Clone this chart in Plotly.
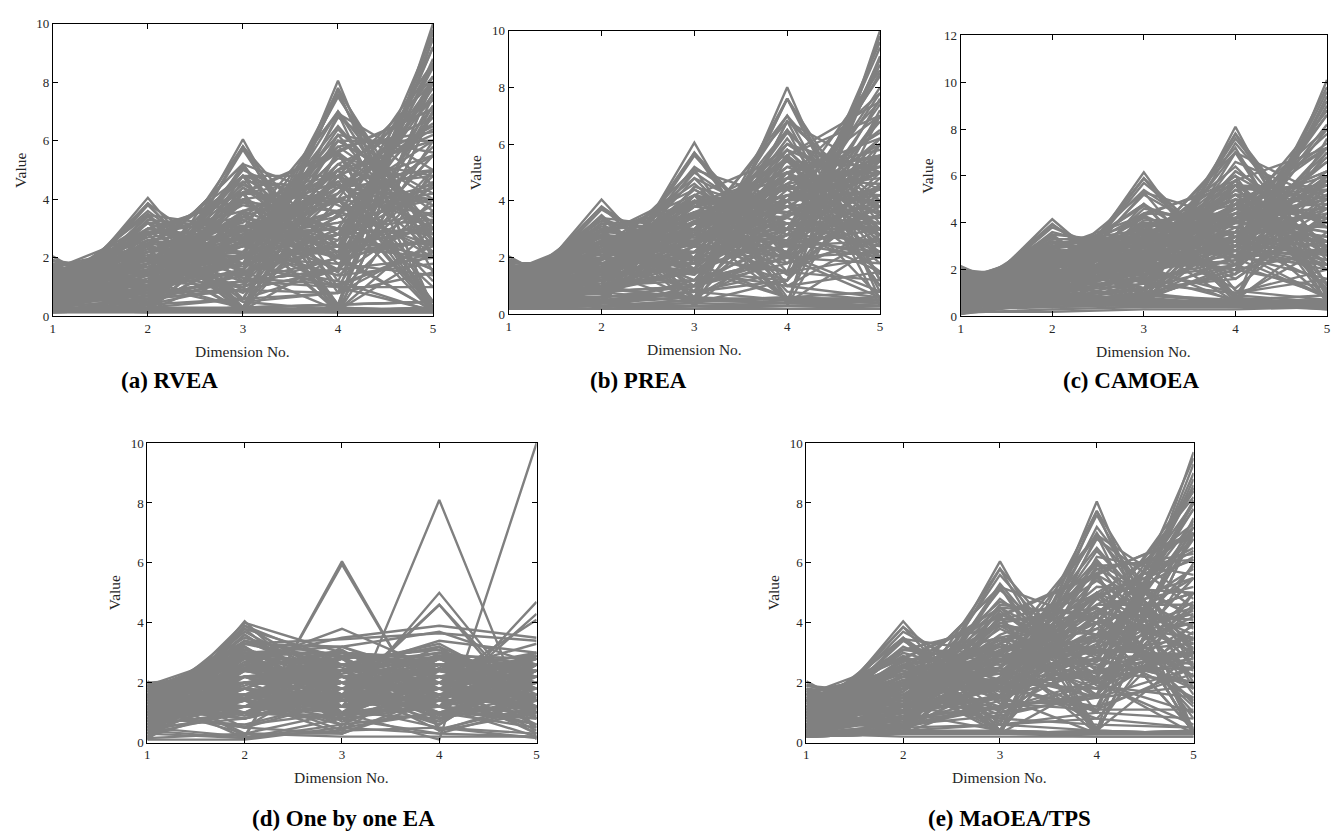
import plotly.graph_objects as go

W, H = 1331, 838

dimensions = [1, 2, 3, 4, 5]

# Objective vectors of the final populations (one row = one solution)
rvea = [
    [2.05, 0.2, 0.15, 0.15, 0.15], [0.2, 4.05, 0.2, 0.15, 0.15], [0.15, 0.25, 6.05, 0.15, 0.15],
    [0.15, 0.2, 0.2, 8.05, 0.2], [0.15, 0.15, 0.2, 0.2, 10.0], [1.4, 2.8, 0.15, 0.15, 0.15],
    [1.4, 0.2, 4.2, 0.15, 0.15], [1.4, 0.15, 0.15, 5.6, 0.15], [1.4, 0.15, 0.15, 0.15, 7.0],
    [0.15, 2.8, 4.2, 0.15, 0.15], [0.15, 2.8, 0.15, 5.6, 0.2], [0.15, 2.8, 0.2, 0.15, 7.0],
    [0.15, 0.15, 4.2, 5.6, 0.15], [0.2, 0.15, 4.2, 0.15, 7.0], [0.15, 0.15, 0.15, 5.6, 7.1],
    [0.9, 1.8, 2.7, 3.6, 4.5], [0.6, 1.2, 1.8, 2.4, 8.0], [0.4, 0.8, 1.2, 1.6, 9.2],
    [0.2, 0.4, 0.6, 0.8, 9.8], [0.4, 1.2, 1.8, 6.4, 3.0], [0.6, 1.2, 4.8, 2.4, 3.0],
    [0.6, 3.2, 1.8, 2.4, 3.0], [1.6, 1.2, 1.8, 2.4, 3.0], [0.3, 0.6, 0.9, 7.6, 1.5],
    [0.2, 0.4, 5.7, 0.8, 2.5], [0.2, 3.8, 0.6, 1.6, 2.0], [1.9, 0.8, 0.9, 0.8, 1.5],
    [1.0, 2.0, 0.15, 4.0, 5.0], [1.0, 0.15, 3.0, 4.0, 5.0], [1.0, 2.0, 3.0, 0.15, 5.0],
    [1.0, 2.0, 3.0, 4.0, 0.15], [0.15, 2.0, 3.0, 4.0, 5.0], [0.8, 0.8, 1.2, 4.8, 6.5],
    [0.6, 2.2, 1.2, 1.6, 7.2], [1.2, 0.8, 3.3, 1.6, 5.0], [0.5, 1.4, 3.6, 4.8, 3.0],
    [0.4, 1.0, 2.1, 2.8, 8.0], [1.1, 1.6, 2.4, 4.0, 3.5], [0.7, 1.8, 3.3, 2.0, 5.5],
    [0.3, 0.6, 1.2, 6.8, 4.5], [0.3, 1.2, 1.5, 2.4, 8.5], [0.2, 0.6, 0.9, 1.6, 9.5],
    [0.6, 0.8, 1.2, 1.6, 8.8], [0.9, 1.2, 1.5, 2.8, 7.2], [1.3, 2.4, 1.8, 2.4, 2.0],
    [0.8, 3.0, 2.1, 2.4, 2.5], [0.5, 1.8, 4.5, 2.8, 2.0], [0.6, 0.8, 2.1, 6.0, 4.2],
    [0.4, 0.8, 3.9, 3.6, 5.5], [1.0, 1.2, 1.8, 1.2, 7.5], [0.15, 1.2, 0.3, 0.4, 9.5],
    [1.2, 0.2, 0.3, 0.4, 8.0], [0.15, 0.2, 3.6, 0.4, 8.0], [0.15, 0.2, 0.3, 4.8, 8.0],
    [1.6, 0.2, 0.3, 4.8, 0.5], [0.15, 3.2, 0.3, 4.8, 0.5], [0.15, 0.2, 4.8, 4.8, 0.5],
    [1.2, 3.2, 0.3, 0.4, 0.5], [1.2, 0.2, 4.8, 0.4, 0.5], [0.15, 2.4, 4.8, 0.4, 0.5],
    [0.3, 0.8, 1.2, 2.0, 9.2], [0.7, 1.2, 2.7, 4.4, 5.5], [1.1, 1.8, 2.1, 3.6, 4.0],
    [0.8, 2.2, 2.7, 3.2, 4.0], [1.4, 1.4, 2.4, 2.8, 3.0], [1.7, 1.0, 1.5, 2.4, 2.0],
    [0.4, 3.4, 1.5, 2.8, 2.0], [0.5, 1.0, 5.1, 2.4, 2.5], [0.4, 1.0, 1.8, 7.0, 2.0],
    [0.2, 0.15, 0.15, 0.15, 0.15], [0.9, 1.5, 3.0, 5.0, 2.2], [0.5, 2.5, 2.0, 5.5, 2.6],
    [1.2, 1.0, 4.0, 3.0, 3.3], [0.3, 1.6, 2.5, 6.5, 2.8], [1.5, 0.9, 2.0, 5.0, 0.15],
    [0.7, 2.6, 3.0, 4.5, 0.2], [0.4, 1.0, 5.0, 3.5, 0.15], [1.1, 2.9, 1.5, 3.0, 3.5],
    [0.2, 0.5, 1.5, 7.5, 2.5], [0.6, 1.5, 3.5, 1.5, 7.0], [1.3, 1.9, 2.5, 1.0, 6.0],
    [0.25, 0.3, 2.2, 5.8, 6.3], [0.5, 0.7, 2.8, 3.0, 7.8], [0.8, 0.3, 0.6, 6.2, 5.6],
    [0.35, 2.0, 0.8, 3.5, 8.0], [1.5, 2.4, 0.9, 1.6, 4.5], [1.8, 0.4, 2.0, 1.8, 3.2],
    [0.9, 3.5, 0.5, 0.2, 3.0], [0.3, 3.3, 3.0, 0.2, 2.2], [1.4, 0.5, 4.4, 2.0, 0.2],
    [0.6, 2.0, 5.2, 1.0, 0.2], [0.15, 0.2, 0.15, 7.8, 2.0], [0.2, 0.15, 5.8, 1.2, 0.15],
    [1.6, 2.0, 0.5, 0.8, 4.0], [0.5, 1.5, 2.0, 2.2, 8.6], [0.3, 0.9, 1.6, 4.2, 8.2],
    [1.0, 2.5, 2.8, 2.0, 5.5], [0.2, 1.8, 4.0, 4.5, 3.0],
    [1.93, 1.04, 0.3, 0.2, 0.2], [1.73, 2.0, 0.2, 0.3, 0.2], [1.41, 2.83, 0.3, 0.2, 0.3],
    [1.0, 3.46, 0.2, 0.2, 0.2], [0.52, 3.86, 0.3, 0.2, 0.2], [0.2, 3.86, 1.55, 0.2, 0.3],
    [0.3, 3.46, 3.0, 0.2, 0.2], [0.2, 2.83, 4.24, 0.3, 0.2], [0.2, 2.0, 5.2, 0.2, 0.3],
    [0.3, 1.04, 5.8, 0.2, 0.2], [0.2, 0.3, 5.8, 2.07, 0.2], [0.3, 0.2, 5.2, 4.0, 0.3],
    [0.2, 0.3, 4.24, 5.66, 0.2], [0.2, 0.2, 3.0, 6.93, 0.2], [0.3, 0.2, 1.55, 7.73, 0.3],
    [0.2, 0.3, 0.2, 7.73, 2.6], [0.3, 0.2, 0.3, 6.93, 5.0], [0.2, 0.2, 0.2, 5.66, 7.07],
    [0.2, 0.3, 0.3, 4.0, 8.66], [0.3, 0.2, 0.2, 2.07, 9.66],
    [1.5, 2.6, 2.2, 1.4, 1.8], [0.7, 1.1, 2.6, 5.4, 4.8], [1.2, 2.2, 3.8, 3.0, 1.6],
    [0.5, 0.9, 1.8, 3.4, 8.6], [0.9, 2.8, 3.4, 2.6, 4.4], [1.8, 1.4, 1.0, 2.0, 2.6],
    [0.4, 1.6, 4.2, 4.8, 3.4], [1.0, 1.0, 2.4, 6.2, 2.4], [0.6, 2.4, 1.6, 4.4, 6.4],
    [1.3, 0.6, 3.6, 2.4, 5.8], [0.8, 1.7, 2.9, 3.9, 6.0], [1.6, 2.9, 1.3, 1.1, 2.2],
    [0.3, 2.2, 3.2, 5.8, 3.6], [1.1, 0.4, 1.1, 4.2, 7.4], [0.5, 3.0, 4.0, 2.0, 3.8],
    [1.4, 1.8, 3.4, 4.6, 1.2], [0.2, 1.4, 2.0, 5.0, 7.4], [0.9, 2.0, 1.0, 2.6, 8.0],
    [1.7, 2.2, 2.4, 1.4, 3.6], [0.6, 0.5, 4.6, 4.4, 4.0], [1.2, 3.0, 2.6, 3.0, 2.8],
    [0.4, 0.7, 2.6, 7.0, 3.0], [1.0, 1.6, 4.4, 2.8, 4.6], [0.7, 2.5, 0.6, 5.0, 6.0],
    [1.5, 1.2, 2.8, 3.4, 4.4], [0.3, 1.0, 3.4, 2.2, 8.2], [1.9, 1.5, 1.8, 1.0, 1.0],
    [0.8, 3.6, 1.2, 1.0, 2.4], [1.1, 2.4, 4.6, 1.8, 1.4], [0.5, 1.2, 1.0, 6.0, 6.0],
    [1.2, 1.9, 2.2, 5.2, 3.8], [0.6, 2.9, 2.5, 3.6, 4.2], [1.5, 1.5, 3.9, 2.2, 2.6],
    [0.9, 2.3, 2.0, 4.6, 5.0], [0.4, 1.3, 3.0, 4.2, 6.6], [1.3, 2.7, 3.1, 2.4, 3.2],
    [0.7, 0.9, 3.4, 5.6, 3.2], [1.0, 2.1, 1.7, 3.4, 6.8], [1.6, 1.7, 2.0, 3.6, 2.4],
    [0.5, 2.0, 2.4, 6.0, 4.0], [1.1, 1.2, 4.2, 4.0, 2.0], [0.8, 3.2, 2.9, 1.6, 4.8],
    [1.4, 0.7, 2.6, 4.4, 4.8], [0.3, 2.6, 1.8, 4.8, 6.2], [1.2, 1.4, 3.0, 2.0, 7.0],
    [0.6, 1.8, 4.8, 3.8, 2.2], [1.7, 2.4, 1.4, 3.0, 1.6], [0.9, 0.6, 1.4, 5.2, 6.8],
    [1.0, 2.8, 3.6, 4.0, 1.0], [0.4, 1.5, 2.8, 3.0, 7.6],
]

prea = [
    [2.05, 0.3, 0.4, 0.3, 0.2], [0.2, 4.05, 0.5, 0.4, 0.3], [0.3, 0.5, 6.05, 0.4, 0.3],
    [0.2, 0.3, 0.5, 8.0, 0.5], [0.2, 0.3, 0.2, 0.3, 10.0], [1.9, 1.0, 0.5, 0.4, 0.3],
    [0.3, 3.7, 1.8, 0.6, 0.4], [0.4, 0.8, 5.6, 2.0, 0.6], [0.3, 0.6, 1.0, 7.6, 2.0],
    [0.3, 0.5, 0.8, 1.5, 9.1], [0.2, 0.4, 0.8, 1.2, 9.0], [0.5, 0.8, 1.0, 2.0, 8.8],
    [1.6, 2.0, 1.5, 1.0, 1.5], [1.2, 2.8, 2.0, 1.5, 2.0], [0.8, 2.2, 4.0, 2.5, 2.0],
    [0.6, 1.5, 3.0, 5.5, 3.5], [0.5, 1.0, 2.0, 4.0, 7.5], [1.0, 1.8, 2.5, 3.5, 5.0],
    [0.9, 1.6, 3.2, 4.2, 4.0], [0.7, 2.0, 2.8, 3.0, 5.5], [1.1, 1.2, 2.4, 4.5, 4.2],
    [1.3, 2.2, 3.0, 2.2, 3.5], [0.4, 1.2, 3.8, 4.8, 3.8], [0.6, 2.6, 1.5, 4.0, 5.2],
    [0.8, 0.6, 2.2, 5.2, 5.5], [1.4, 0.8, 3.5, 3.0, 3.0], [0.3, 2.4, 3.4, 2.6, 6.2],
    [1.0, 2.5, 1.2, 2.0, 7.0], [0.5, 0.9, 4.5, 3.5, 4.5], [1.2, 1.4, 1.6, 5.8, 2.5],
    [0.7, 3.0, 2.5, 3.8, 2.8], [1.5, 1.5, 3.0, 4.0, 1.5], [0.4, 1.8, 2.0, 6.5, 3.0],
    [0.6, 1.0, 1.5, 3.0, 8.0], [0.9, 2.0, 4.2, 2.0, 3.8], [1.1, 0.5, 2.8, 4.8, 4.6],
    [0.2, 1.4, 2.6, 5.0, 6.2], [1.7, 1.2, 1.2, 2.5, 3.0], [0.8, 3.2, 1.0, 2.8, 4.0],
    [0.5, 2.3, 3.8, 4.4, 2.2], [1.3, 2.6, 2.2, 1.2, 4.5], [0.3, 0.5, 3.0, 6.0, 5.0],
    [0.9, 1.2, 4.8, 1.5, 4.0], [0.6, 2.8, 2.6, 5.0, 1.4], [1.0, 0.9, 1.8, 6.0, 4.0],
    [0.4, 1.6, 1.0, 2.2, 9.0], [1.2, 1.9, 3.6, 3.2, 2.4], [0.7, 2.4, 4.6, 1.8, 2.6],
    [1.5, 2.0, 0.8, 3.5, 3.8], [0.3, 1.0, 2.0, 7.0, 3.2], [0.5, 1.3, 5.0, 2.8, 3.5],
    [1.8, 0.7, 2.4, 2.0, 2.2], [0.8, 1.5, 2.5, 2.0, 7.6], [1.4, 2.5, 1.5, 2.8, 4.0],
    [0.2, 3.0, 2.5, 3.5, 5.0], [1.0, 3.2, 3.0, 2.0, 1.8], [0.6, 0.4, 3.6, 4.0, 6.0],
    [1.3, 1.0, 1.2, 4.8, 5.0], [0.5, 2.0, 1.8, 6.2, 2.0], [0.9, 2.6, 3.5, 3.6, 3.0],
    [0.3, 0.8, 1.5, 3.5, 8.4], [1.6, 1.8, 2.5, 1.5, 3.0], [0.7, 1.2, 5.2, 3.0, 1.5],
    [1.1, 2.0, 2.0, 5.0, 3.5], [0.4, 2.8, 1.5, 1.2, 7.2], [0.6, 1.6, 3.0, 4.6, 5.2],
    [1.2, 0.3, 0.5, 4.0, 6.5], [0.2, 0.5, 0.8, 5.6, 7.5], [0.8, 0.4, 4.0, 0.5, 7.0],
    [1.0, 3.0, 0.3, 0.3, 6.0], [1.5, 0.4, 0.3, 5.5, 1.0], [0.3, 2.8, 4.0, 0.4, 2.5],
    [1.4, 2.5, 3.5, 0.5, 0.3], [0.6, 1.5, 2.5, 6.5, 0.3], [0.2, 0.3, 0.3, 0.4, 9.8],
    [0.8, 2.0, 3.0, 4.0, 5.0], [0.4, 1.2, 2.2, 3.0, 7.8], [1.0, 1.4, 3.6, 5.0, 2.6],
    [1.7, 0.2, 1.0, 1.8, 4.6], [0.5, 3.5, 0.6, 2.5, 4.2], [0.9, 0.2, 0.3, 3.0, 8.5],
    [0.2, 0.9, 2.8, 7.0, 1.2], [1.3, 1.6, 4.2, 1.0, 2.8], [0.6, 0.8, 0.4, 6.8, 4.0],
    [0.4, 2.2, 3.2, 5.5, 3.0], [1.1, 1.8, 2.8, 2.5, 6.0], [0.3, 0.4, 1.2, 2.0, 9.4],
    [1.6, 1.5, 0.4, 1.2, 5.5], [0.7, 3.4, 2.0, 1.5, 1.2], [0.2, 0.2, 0.2, 0.3, 0.3],
    [0.4, 0.3, 0.2, 0.2, 0.2],
    [1.95, 0.9, 0.6, 0.5, 0.4], [1.7, 2.0, 0.5, 0.6, 0.5], [1.4, 2.8, 0.6, 0.4, 0.5],
    [1.0, 3.4, 0.5, 0.6, 0.4], [0.5, 3.8, 0.8, 0.5, 0.6], [0.4, 3.8, 1.6, 0.6, 0.5],
    [0.5, 3.4, 3.0, 0.5, 0.6], [0.4, 2.8, 4.2, 0.8, 0.5], [0.5, 2.0, 5.1, 0.6, 0.8],
    [0.4, 1.0, 5.7, 1.0, 0.6], [0.5, 0.6, 5.7, 2.1, 0.8], [0.4, 0.8, 5.1, 4.0, 0.6],
    [0.6, 0.5, 4.2, 5.6, 1.0], [0.4, 0.6, 3.0, 6.8, 0.8], [0.5, 0.8, 1.6, 7.6, 1.2],
    [0.4, 0.5, 0.8, 7.6, 2.6], [0.6, 0.4, 0.6, 6.8, 5.0], [0.5, 0.8, 1.0, 5.6, 7.0],
    [0.4, 0.6, 0.8, 4.0, 8.6], [0.5, 0.5, 0.6, 2.1, 9.6],
    [1.2, 2.4, 3.0, 4.2, 3.2], [0.8, 1.8, 2.2, 5.0, 5.6], [1.5, 2.8, 2.0, 2.4, 2.6],
    [0.6, 1.2, 4.0, 4.4, 4.8], [1.0, 2.2, 3.4, 3.0, 4.4], [0.4, 2.6, 2.8, 4.8, 4.6],
    [1.4, 1.6, 2.6, 3.8, 4.2], [0.9, 3.0, 3.8, 3.4, 2.2], [1.7, 1.6, 1.8, 3.2, 3.4],
    [0.5, 1.0, 3.2, 5.8, 4.4], [1.1, 2.6, 1.6, 4.2, 5.4], [0.7, 1.4, 2.8, 2.6, 7.0],
    [1.3, 2.0, 4.0, 3.8, 2.0], [0.3, 2.0, 3.6, 4.0, 5.6], [1.6, 2.4, 2.8, 2.0, 4.8],
    [0.8, 0.9, 2.0, 6.4, 3.6], [1.0, 3.3, 2.4, 1.8, 5.0], [0.6, 2.2, 4.8, 3.2, 3.0],
    [1.4, 1.2, 3.0, 5.2, 3.8], [0.4, 1.8, 1.4, 4.6, 7.0], [1.2, 3.0, 3.2, 4.6, 1.8],
    [0.9, 1.6, 4.4, 2.4, 5.6], [1.5, 0.9, 1.6, 4.4, 5.2], [0.5, 2.8, 2.0, 3.0, 6.8],
    [1.1, 1.4, 3.8, 5.4, 2.4], [0.7, 2.4, 2.4, 5.8, 2.8], [1.8, 1.8, 2.2, 2.8, 2.0],
    [0.3, 1.2, 2.4, 4.8, 7.8], [1.3, 2.6, 3.6, 1.4, 4.0], [0.6, 3.2, 3.4, 4.2, 3.6],
    [1.0, 1.7, 2.6, 4.6, 2.8], [0.5, 2.4, 3.2, 2.4, 5.4], [1.3, 1.3, 2.2, 3.4, 6.2],
    [0.8, 2.9, 2.7, 4.0, 4.4], [1.6, 2.1, 3.4, 2.6, 2.2], [0.4, 1.5, 4.2, 3.6, 5.0],
    [1.1, 2.3, 1.9, 5.6, 3.0], [0.7, 1.1, 3.5, 4.4, 6.4], [1.4, 2.7, 2.6, 3.2, 3.2],
    [0.9, 1.9, 3.9, 5.0, 2.0], [1.2, 0.9, 2.2, 2.8, 7.4], [0.6, 2.6, 1.2, 5.0, 5.8],
    [1.7, 1.4, 2.9, 2.2, 3.8], [0.3, 1.7, 3.0, 5.4, 5.2], [1.0, 3.1, 2.0, 3.8, 3.4],
    [0.8, 0.7, 4.2, 3.0, 5.6], [1.5, 2.2, 1.4, 4.2, 3.0], [0.5, 2.0, 2.8, 6.0, 3.8],
    [1.2, 1.6, 3.3, 3.8, 5.6], [0.7, 2.8, 4.4, 2.8, 2.6],
]

camoea = [
    [2.15, 0.4, 0.5, 0.6, 0.4], [0.3, 4.15, 0.8, 0.5, 0.6], [0.4, 0.6, 6.15, 0.8, 0.5],
    [0.3, 0.5, 0.6, 8.1, 0.8], [0.3, 0.4, 0.5, 0.6, 10.1], [2.0, 1.5, 0.6, 0.5, 0.5],
    [0.5, 3.8, 2.2, 0.6, 0.6], [0.4, 0.9, 5.7, 2.5, 0.8], [0.4, 0.8, 1.2, 7.4, 2.8],
    [0.4, 0.6, 1.0, 1.8, 9.4], [0.6, 0.8, 1.2, 2.2, 9.0], [1.4, 2.6, 3.2, 2.5, 2.2],
    [1.0, 2.0, 4.2, 3.2, 3.0], [0.7, 1.4, 3.0, 6.0, 3.8], [0.5, 1.2, 2.2, 4.2, 7.8],
    [0.9, 2.2, 2.8, 3.6, 5.2], [1.2, 1.6, 3.6, 4.4, 3.6], [0.8, 2.6, 2.4, 3.0, 6.0],
    [1.5, 1.8, 2.0, 4.8, 3.0], [0.6, 3.0, 3.5, 2.6, 4.0], [1.1, 1.0, 4.6, 3.8, 3.2],
    [0.4, 1.8, 2.6, 5.4, 5.6], [1.3, 2.4, 1.6, 2.2, 5.8], [0.7, 0.9, 3.2, 6.4, 2.6],
    [1.6, 1.4, 2.8, 3.0, 2.4], [0.9, 3.2, 2.0, 3.8, 3.4], [0.5, 2.0, 4.8, 2.2, 4.6],
    [1.0, 1.2, 1.6, 5.6, 5.0], [0.3, 1.4, 3.6, 4.6, 6.2], [1.8, 1.0, 1.6, 2.4, 3.2],
    [1.2, 2.8, 3.0, 1.8, 4.2], [0.6, 1.6, 1.8, 3.2, 8.2], [0.8, 2.4, 3.8, 4.8, 2.0],
    [1.4, 0.8, 2.4, 4.0, 5.4], [0.4, 2.2, 2.0, 7.0, 2.4], [1.0, 3.4, 1.4, 2.8, 4.8],
    [0.7, 1.2, 5.2, 3.0, 2.8], [1.5, 2.2, 3.4, 2.6, 1.6], [0.3, 0.9, 2.4, 3.6, 8.8],
    [1.1, 1.8, 2.6, 5.8, 2.2], [0.9, 0.7, 3.8, 5.0, 4.2], [0.5, 2.8, 3.0, 3.2, 6.2],
    [1.3, 1.2, 2.0, 3.4, 6.6], [0.6, 3.6, 2.6, 2.0, 2.8], [1.7, 2.0, 1.2, 1.6, 4.4],
    [0.8, 1.5, 4.4, 4.2, 3.6], [0.4, 1.0, 1.4, 6.6, 5.0], [1.2, 2.6, 2.2, 4.4, 4.6],
    [0.7, 2.0, 3.4, 5.2, 4.2], [1.0, 0.6, 1.2, 3.0, 8.0], [0.5, 0.8, 0.6, 4.8, 7.2],
    [1.6, 0.6, 0.8, 5.0, 1.2], [0.3, 3.0, 4.0, 0.8, 3.0], [1.4, 3.0, 0.9, 0.7, 3.6],
    [0.6, 0.5, 4.8, 0.9, 6.0], [1.2, 1.2, 0.5, 0.6, 7.6], [0.4, 0.5, 0.5, 3.6, 8.6],
    [0.9, 2.2, 4.8, 0.6, 0.5], [1.5, 2.8, 2.2, 2.8, 0.8], [0.5, 1.2, 3.0, 7.2, 0.6],
    [0.8, 1.0, 2.0, 2.4, 9.2], [1.1, 2.2, 1.8, 3.0, 6.8], [0.6, 1.8, 3.2, 4.0, 6.6],
    [1.3, 0.4, 3.0, 5.8, 1.4], [0.4, 2.6, 1.2, 5.6, 5.4], [1.9, 0.6, 2.0, 1.0, 2.0],
    [0.3, 1.6, 5.4, 2.8, 2.2], [1.0, 3.0, 3.6, 3.2, 1.4], [0.7, 2.4, 1.0, 6.2, 3.8],
    [1.2, 1.6, 2.6, 2.0, 7.0], [0.5, 0.4, 2.2, 4.6, 7.4], [0.9, 2.8, 2.6, 4.6, 3.0],
    [1.4, 1.6, 4.0, 3.2, 2.6], [0.6, 3.4, 0.8, 3.4, 5.8], [0.4, 0.6, 0.8, 2.0, 9.6],
    [1.1, 1.4, 3.4, 6.0, 0.6], [0.2, 0.6, 1.6, 7.6, 2.8], [1.5, 1.0, 0.6, 4.2, 5.0],
    [0.8, 3.2, 3.0, 1.2, 4.4], [1.0, 2.0, 3.0, 4.0, 5.0], [0.6, 1.0, 2.8, 3.2, 8.6],
    [0.5, 2.2, 4.4, 5.6, 1.0], [1.7, 1.8, 0.8, 2.6, 4.8], [0.4, 0.5, 0.5, 0.5, 0.5],
    [0.5, 0.6, 0.4, 0.4, 0.4],
    [2.05, 1.0, 0.7, 0.6, 0.5], [1.8, 2.1, 0.6, 0.7, 0.6], [1.5, 2.9, 0.7, 0.5, 0.6],
    [1.05, 3.5, 0.6, 0.7, 0.5], [0.55, 3.95, 0.9, 0.6, 0.7], [0.5, 3.9, 1.7, 0.7, 0.6],
    [0.6, 3.5, 3.1, 0.6, 0.7], [0.5, 2.9, 4.3, 0.9, 0.6], [0.6, 2.1, 5.3, 0.7, 0.9],
    [0.5, 1.1, 5.9, 1.1, 0.7], [0.6, 0.7, 5.9, 2.2, 0.9], [0.5, 0.9, 5.3, 4.1, 0.7],
    [0.7, 0.6, 4.3, 5.8, 1.1], [0.5, 0.7, 3.1, 7.0, 0.9], [0.6, 0.9, 1.7, 7.8, 1.3],
    [0.5, 0.6, 0.9, 7.8, 2.7], [0.7, 0.5, 0.7, 7.0, 5.1], [0.6, 0.9, 1.1, 5.8, 7.2],
    [0.5, 0.7, 0.9, 4.1, 8.8], [0.6, 0.6, 0.7, 2.2, 9.8],
    [1.3, 2.3, 3.1, 4.0, 3.4], [0.9, 1.9, 2.3, 5.2, 5.4], [1.6, 2.7, 2.1, 2.6, 2.8],
    [0.7, 1.3, 4.1, 4.2, 5.0], [1.1, 2.1, 3.3, 3.2, 4.6], [0.5, 2.5, 2.9, 4.6, 4.8],
    [1.5, 1.7, 2.5, 3.6, 4.4], [1.0, 3.1, 3.7, 3.6, 2.4], [1.8, 1.5, 1.9, 3.4, 3.2],
    [0.6, 1.1, 3.1, 5.6, 4.6], [1.2, 2.5, 1.7, 4.0, 5.6], [0.8, 1.5, 2.7, 2.8, 7.2],
    [1.4, 2.1, 3.9, 3.6, 2.2], [0.4, 2.1, 3.5, 4.2, 5.8], [1.7, 2.3, 2.7, 2.2, 5.0],
    [0.9, 1.0, 2.1, 6.2, 3.8], [1.1, 3.2, 2.5, 2.0, 5.2], [0.7, 2.3, 4.7, 3.4, 3.2],
    [1.5, 1.3, 3.1, 5.0, 4.0], [0.5, 1.9, 1.5, 4.4, 7.2], [1.3, 2.9, 3.3, 4.4, 2.0],
    [1.0, 1.7, 4.3, 2.6, 5.8], [1.6, 1.0, 1.7, 4.2, 5.4], [0.6, 2.7, 2.1, 3.2, 7.0],
    [1.2, 1.5, 3.7, 5.2, 2.6], [0.8, 2.5, 2.5, 5.6, 3.0], [1.9, 1.9, 2.3, 3.0, 2.2],
    [0.4, 1.3, 2.5, 4.6, 8.0], [1.4, 2.7, 3.5, 1.6, 4.2], [0.7, 3.3, 3.3, 4.0, 3.8],
    [0.15, 0.3, 0.4, 0.5, 0.3], [0.2, 0.2, 0.3, 0.3, 0.4], [0.1, 1.0, 0.5, 0.4, 0.6],
    [0.2, 1.8, 1.0, 0.6, 0.3], [0.1, 0.6, 1.4, 1.0, 1.6], [0.2, 1.3, 0.8, 2.0, 1.2],
    [1.1, 1.9, 2.8, 4.8, 3.2], [0.6, 2.4, 3.4, 3.0, 5.4], [1.4, 1.4, 2.3, 3.2, 6.0],
    [0.9, 3.0, 2.8, 4.2, 4.2], [1.7, 2.0, 3.6, 2.8, 2.0], [0.5, 1.6, 4.0, 3.8, 5.2],
    [1.2, 2.4, 2.0, 5.4, 3.2], [0.8, 1.2, 3.3, 4.6, 6.2], [1.5, 2.6, 2.7, 3.4, 3.0],
    [1.0, 2.0, 3.8, 5.2, 2.2], [1.3, 1.0, 2.4, 3.0, 7.2], [0.7, 2.7, 1.4, 4.8, 6.0],
]

one_by_one = [
    [0.3, 0.15, 6.05, 0.4, 1.0], [0.5, 0.2, 5.95, 0.45, 1.2], [1.0, 0.5, 0.3, 8.1, 0.1],
    [0.8, 0.6, 1.0, 0.1, 10.0], [0.6, 1.5, 1.2, 5.0, 1.0], [0.9, 1.0, 1.6, 4.6, 0.8],
    [1.2, 0.8, 1.5, 4.6, 1.1], [0.7, 1.2, 1.0, 1.2, 4.7], [1.0, 1.6, 1.4, 1.4, 4.3],
    [0.4, 1.0, 1.5, 2.0, 4.1], [1.5, 3.3, 3.45, 3.65, 3.4], [0.3, 2.6, 3.8, 2.4, 3.3],
    [0.5, 2.8, 3.5, 3.9, 3.5], [0.8, 3.0, 3.2, 3.7, 2.6], [1.1, 2.5, 2.4, 3.4, 3.0],
    [2.05, 0.2, 0.4, 0.5, 0.3], [0.2, 4.05, 1.0, 1.2, 0.8], [0.15, 3.9, 2.0, 0.8, 1.5],
    [0.3, 3.6, 1.5, 2.0, 1.0], [0.5, 3.4, 2.5, 1.5, 2.0], [0.1, 3.2, 0.5, 1.0, 0.5],
    [0.7, 3.0, 1.0, 2.5, 1.5], [0.1, 2.5, 2.0, 0.6, 2.6], [1.6, 0.15, 0.6, 1.0, 0.8],
    [1.9, 0.3, 1.0, 0.8, 1.4], [2.0, 0.5, 1.4, 1.8, 1.0], [0.4, 0.15, 0.8, 1.2, 0.6],
    [0.1, 0.1, 0.5, 0.3, 0.2], [0.15, 0.3, 0.2, 0.2, 0.2], [1.8, 1.2, 2.0, 1.5, 2.2],
    [1.5, 2.0, 1.0, 2.2, 1.6], [1.2, 1.5, 2.8, 1.2, 1.0], [1.0, 2.8, 1.6, 2.0, 2.8],
    [0.8, 2.2, 2.6, 1.6, 1.2], [0.6, 1.8, 1.2, 2.8, 2.0], [1.4, 1.0, 2.2, 2.6, 2.4],
    [1.7, 2.4, 1.8, 1.0, 1.8], [0.9, 3.1, 2.4, 1.4, 0.9], [1.3, 1.6, 1.4, 2.2, 2.9],
    [0.5, 2.5, 3.0, 2.0, 1.4], [1.6, 1.4, 0.8, 1.8, 2.6], [1.1, 2.0, 2.0, 2.9, 1.2],
    [0.7, 1.2, 2.4, 2.4, 2.2], [1.9, 1.8, 1.2, 1.6, 1.1], [0.4, 2.9, 1.8, 1.2, 2.4],
    [1.2, 2.6, 2.8, 1.8, 1.6], [1.5, 0.8, 1.8, 2.0, 2.8], [0.8, 1.4, 1.0, 3.0, 1.8],
    [1.0, 2.2, 2.2, 0.8, 2.2], [1.8, 2.0, 2.6, 2.2, 0.8], [0.6, 3.2, 1.4, 1.8, 2.6],
    [1.4, 1.8, 3.0, 2.6, 1.4], [0.9, 1.0, 1.6, 1.4, 2.9], [1.6, 2.8, 1.2, 2.4, 2.0],
    [0.3, 1.6, 2.0, 1.6, 1.6], [1.1, 3.0, 2.2, 1.0, 1.2], [1.7, 1.6, 2.4, 2.8, 2.4],
    [0.5, 2.0, 0.9, 2.2, 2.8], [1.3, 2.4, 1.8, 3.2, 1.0], [2.0, 1.0, 0.9, 1.2, 1.8],
    [0.7, 2.7, 2.6, 2.6, 2.6], [1.0, 1.2, 3.2, 2.0, 2.0], [1.5, 3.0, 2.0, 1.6, 2.4],
    [0.8, 0.6, 1.4, 2.6, 1.2], [1.2, 1.8, 0.6, 1.0, 2.0], [1.9, 2.6, 1.6, 2.0, 2.9],
    [0.4, 1.4, 2.6, 3.0, 2.2], [1.4, 2.2, 1.2, 1.4, 0.6], [0.6, 2.4, 3.1, 1.2, 2.0],
    [1.6, 1.0, 2.6, 3.3, 1.6], [1.0, 3.4, 2.0, 2.4, 1.8], [0.9, 1.8, 1.6, 0.6, 2.6],
    [1.8, 2.8, 2.8, 1.8, 1.2], [0.2, 2.2, 1.4, 2.6, 1.0], [1.3, 0.9, 2.0, 1.8, 3.0],
    [0.7, 2.0, 2.2, 2.0, 0.4], [1.5, 1.6, 0.4, 2.4, 2.2], [1.1, 2.6, 1.0, 1.4, 2.8],
    [0.5, 0.8, 1.8, 2.8, 2.6], [1.7, 2.2, 2.0, 0.4, 1.4], [0.8, 3.0, 3.0, 2.8, 2.2],
    [1.2, 1.2, 1.2, 2.0, 0.3], [1.4, 2.4, 2.6, 1.2, 2.6], [0.6, 1.4, 0.3, 1.6, 1.8],
    [1.0, 0.5, 2.4, 0.9, 2.4], [1.8, 1.5, 1.6, 2.6, 0.5], [0.3, 1.0, 0.8, 0.3, 1.2],
    [1.6, 2.2, 2.3, 2.9, 2.8], [0.9, 2.9, 0.8, 1.8, 0.3], [1.2, 0.3, 0.3, 1.4, 1.5],
    [1.9, 1.4, 2.8, 0.8, 2.0], [0.5, 3.3, 2.6, 3.2, 1.8], [1.1, 1.4, 1.2, 0.5, 0.15],
    [0.6, 2.0, 1.8, 1.2, 0.2],
    [1.8, 3.0, 2.2, 1.4, 1.6], [1.5, 3.5, 2.6, 2.0, 1.2], [1.2, 3.8, 2.8, 1.6, 2.2],
    [0.8, 4.0, 3.0, 2.4, 1.8], [1.9, 2.6, 1.4, 2.2, 2.4], [1.6, 3.2, 1.2, 2.8, 1.4],
    [1.0, 3.7, 2.0, 1.2, 2.6], [0.6, 3.9, 2.6, 2.0, 1.0], [1.4, 3.4, 2.9, 2.6, 2.0],
    [2.0, 2.2, 2.0, 1.6, 2.8], [0.9, 3.6, 1.6, 2.9, 2.2], [1.7, 2.9, 3.0, 1.8, 1.6],
    [1.3, 3.1, 2.4, 3.0, 2.6], [0.4, 3.8, 1.2, 2.4, 1.4], [1.1, 3.3, 3.2, 2.2, 1.0],
    [1.8, 1.6, 2.8, 3.1, 1.4], [0.7, 2.4, 1.8, 2.4, 3.0], [1.5, 2.0, 2.4, 1.2, 2.4],
    [1.2, 1.2, 1.8, 2.6, 2.6], [0.5, 1.6, 2.6, 2.0, 2.0], [1.0, 2.6, 0.7, 1.6, 1.6],
    [1.6, 0.9, 1.2, 2.0, 1.2], [0.8, 1.8, 2.9, 0.9, 1.6], [1.4, 2.8, 1.6, 2.6, 2.9],
    [1.9, 2.0, 0.9, 2.2, 2.2], [0.3, 2.4, 2.4, 1.4, 2.6], [1.1, 1.4, 2.6, 3.2, 0.8],
    [1.7, 2.6, 2.2, 1.0, 0.9], [0.6, 1.0, 2.0, 1.8, 2.4], [1.3, 2.2, 1.0, 2.8, 2.0],
    [0.9, 2.9, 2.6, 1.8, 2.9], [1.5, 1.2, 2.0, 2.4, 1.8], [0.4, 1.8, 1.0, 2.0, 2.2],
    [1.8, 2.4, 2.4, 2.4, 2.6], [1.0, 1.9, 3.0, 2.8, 1.2], [0.7, 3.0, 2.0, 2.2, 0.6],
    [1.6, 1.8, 1.4, 1.2, 2.9], [1.2, 2.0, 2.2, 1.6, 1.4], [0.5, 2.6, 1.6, 2.6, 1.2],
    [1.4, 1.4, 0.6, 2.0, 2.6], [0.8, 2.2, 2.0, 2.9, 2.8], [1.9, 3.0, 2.6, 2.6, 1.8],
    [1.1, 0.8, 1.6, 1.0, 2.0], [0.2, 1.2, 1.6, 2.2, 1.8], [1.3, 2.8, 1.8, 0.7, 2.4],
]

maoea_tps = [
    [2.05, 0.3, 0.3, 0.2, 0.2], [0.2, 4.05, 0.4, 0.3, 0.3], [0.2, 0.3, 6.05, 0.4, 0.3],
    [0.2, 0.3, 0.3, 8.05, 0.3], [0.2, 0.3, 0.3, 0.4, 9.7], [0.3, 0.5, 0.6, 1.0, 9.3],
    [0.4, 0.8, 1.0, 1.5, 9.0], [1.9, 1.2, 0.8, 0.6, 0.5], [0.4, 3.7, 2.0, 0.8, 0.5],
    [0.3, 0.8, 5.6, 2.0, 0.6], [0.3, 0.6, 1.2, 7.6, 1.8], [1.4, 2.8, 0.3, 0.3, 0.3],
    [1.4, 0.3, 4.2, 0.3, 0.3], [1.4, 0.3, 0.3, 5.6, 0.3], [1.4, 0.3, 0.3, 0.3, 7.0],
    [0.2, 2.8, 4.2, 0.3, 0.3], [0.2, 2.8, 0.3, 5.6, 0.3], [0.2, 2.8, 0.3, 0.3, 7.0],
    [0.2, 0.3, 4.2, 5.6, 0.3], [0.2, 0.3, 4.2, 0.3, 7.0], [0.2, 0.3, 0.3, 5.6, 7.0],
    [0.9, 1.8, 2.7, 3.6, 4.5], [0.6, 1.2, 1.8, 2.4, 8.0], [0.4, 1.2, 1.8, 6.4, 3.0],
    [0.6, 1.2, 4.8, 2.4, 3.0], [0.6, 3.2, 1.8, 2.4, 3.0], [1.6, 1.2, 1.8, 2.4, 3.0],
    [0.3, 0.6, 0.9, 7.2, 3.0], [0.3, 0.5, 5.3, 1.5, 3.5], [0.3, 3.5, 1.0, 2.0, 3.0],
    [1.8, 0.8, 1.2, 1.5, 2.5], [1.0, 2.0, 0.4, 4.0, 5.0], [1.0, 0.4, 3.0, 4.0, 5.0],
    [1.0, 2.0, 3.0, 0.5, 5.0], [1.0, 2.0, 3.0, 4.0, 0.4], [0.3, 2.0, 3.0, 4.0, 5.0],
    [0.8, 0.8, 1.2, 4.8, 6.5], [0.6, 2.2, 1.2, 1.6, 7.2], [1.2, 0.8, 3.3, 1.6, 5.0],
    [0.5, 1.4, 3.6, 4.8, 3.0], [0.4, 1.0, 2.1, 2.8, 8.0], [1.1, 1.6, 2.4, 4.0, 3.5],
    [0.7, 1.8, 3.3, 2.0, 5.5], [0.3, 0.6, 1.2, 6.8, 4.5], [0.3, 1.2, 1.5, 2.4, 8.5],
    [0.6, 0.8, 1.2, 1.6, 8.8], [0.9, 1.2, 1.5, 2.8, 7.2], [1.3, 2.4, 1.8, 2.4, 2.0],
    [0.8, 3.0, 2.1, 2.4, 2.5], [0.5, 1.8, 4.5, 2.8, 2.0], [0.6, 0.8, 2.1, 6.0, 4.2],
    [0.4, 0.8, 3.9, 3.6, 5.5], [1.0, 1.2, 1.8, 1.2, 7.5], [0.7, 1.2, 2.7, 4.4, 5.5],
    [1.1, 1.8, 2.1, 3.6, 4.0], [0.8, 2.2, 2.7, 3.2, 4.0], [1.4, 1.4, 2.4, 2.8, 3.0],
    [1.7, 1.0, 1.5, 2.4, 2.0], [0.4, 3.4, 1.5, 2.8, 2.0], [0.5, 1.0, 5.1, 2.4, 2.5],
    [0.4, 1.0, 1.8, 7.0, 2.0], [0.9, 1.5, 3.0, 5.0, 2.2], [0.5, 2.5, 2.0, 5.5, 2.6],
    [1.2, 1.0, 4.0, 3.0, 3.3], [0.3, 1.6, 2.5, 6.5, 2.8], [1.5, 0.9, 2.0, 5.0, 0.8],
    [0.7, 2.6, 3.0, 4.5, 1.0], [1.1, 2.9, 1.5, 3.0, 3.5], [0.6, 1.5, 3.5, 1.5, 7.0],
    [1.3, 1.9, 2.5, 1.0, 6.0], [0.25, 0.4, 2.2, 5.8, 6.3], [0.5, 0.7, 2.8, 3.0, 7.8],
    [0.8, 0.4, 0.6, 6.2, 5.6], [0.35, 2.0, 0.8, 3.5, 8.0], [1.5, 2.4, 0.9, 1.6, 4.5],
    [1.8, 0.5, 2.0, 1.8, 3.2], [0.9, 3.5, 0.6, 0.4, 3.0], [1.4, 0.6, 4.4, 2.0, 1.0],
    [0.6, 2.0, 5.2, 1.0, 0.8], [1.6, 2.0, 0.6, 0.8, 4.0], [0.5, 1.5, 2.0, 2.2, 8.6],
    [0.3, 0.9, 1.6, 4.2, 8.2], [1.0, 2.5, 2.8, 2.0, 5.5], [0.2, 1.8, 4.0, 4.5, 3.0],
    [1.2, 2.2, 3.4, 4.2, 1.4], [0.7, 0.5, 1.4, 3.6, 8.4], [1.5, 1.6, 3.2, 3.4, 2.6],
    [0.4, 2.6, 2.0, 6.0, 1.6], [1.0, 1.0, 4.6, 4.2, 1.8], [0.2, 0.3, 0.3, 0.3, 0.3],
    [0.3, 0.2, 0.2, 0.2, 0.2],
    [1.95, 1.0, 0.4, 0.3, 0.3], [1.73, 2.0, 0.3, 0.4, 0.3], [1.41, 2.83, 0.4, 0.3, 0.4],
    [1.0, 3.46, 0.3, 0.3, 0.3], [0.52, 3.86, 0.4, 0.3, 0.3], [0.3, 3.86, 1.55, 0.3, 0.4],
    [0.4, 3.46, 3.0, 0.3, 0.3], [0.3, 2.83, 4.24, 0.4, 0.3], [0.3, 2.0, 5.2, 0.3, 0.4],
    [0.4, 1.04, 5.8, 0.3, 0.3], [0.3, 0.4, 5.8, 2.07, 0.3], [0.4, 0.3, 5.2, 4.0, 0.4],
    [0.3, 0.4, 4.24, 5.66, 0.3], [0.3, 0.3, 3.0, 6.93, 0.3], [0.4, 0.3, 1.55, 7.73, 0.4],
    [0.3, 0.4, 0.3, 7.73, 2.5], [0.4, 0.3, 0.4, 6.93, 4.8], [0.3, 0.3, 0.3, 5.66, 6.9],
    [0.3, 0.4, 0.4, 4.0, 8.5], [0.4, 0.3, 0.3, 2.07, 9.5],
    [1.6, 2.5, 2.3, 1.5, 1.9], [0.8, 1.2, 2.5, 5.2, 5.0], [1.2, 2.3, 3.9, 3.1, 1.5],
    [0.6, 1.0, 1.9, 3.3, 8.4], [0.9, 2.7, 3.5, 2.7, 4.2], [1.8, 1.5, 1.1, 2.1, 2.7],
    [0.4, 1.7, 4.1, 4.9, 3.3], [1.1, 1.1, 2.5, 6.1, 2.5], [0.6, 2.5, 1.7, 4.3, 6.2],
    [1.3, 0.7, 3.5, 2.5, 5.9], [0.8, 1.8, 3.0, 3.8, 5.8], [1.6, 2.8, 1.4, 1.2, 2.3],
    [0.3, 2.3, 3.3, 5.6, 3.8], [1.1, 0.5, 1.2, 4.3, 7.2], [0.5, 3.1, 3.9, 2.1, 3.9],
    [1.4, 1.9, 3.3, 4.5, 1.3], [0.3, 1.5, 2.1, 4.9, 7.3], [0.9, 2.1, 1.1, 2.7, 7.8],
    [1.7, 2.3, 2.5, 1.5, 3.7], [0.6, 0.6, 4.5, 4.3, 4.1], [1.2, 3.1, 2.7, 3.1, 2.9],
    [0.4, 0.8, 2.7, 6.9, 3.1], [1.0, 1.7, 4.3, 2.9, 4.7], [0.7, 2.6, 0.7, 4.9, 6.1],
    [1.5, 1.3, 2.9, 3.5, 4.3], [0.3, 1.1, 3.3, 2.3, 8.1], [1.9, 1.6, 1.9, 1.1, 1.1],
    [0.8, 3.5, 1.3, 1.1, 2.5], [1.1, 2.5, 4.5, 1.9, 1.5], [0.5, 1.3, 1.1, 5.9, 6.1],
    [1.2, 1.8, 2.3, 5.0, 3.6], [0.7, 2.8, 2.6, 3.4, 4.4], [1.4, 1.6, 3.8, 2.3, 2.8],
    [0.9, 2.2, 2.1, 4.4, 5.2], [0.5, 1.4, 3.1, 4.0, 6.8], [1.3, 2.6, 3.2, 2.6, 3.0],
    [0.6, 1.0, 3.3, 5.4, 3.4], [1.0, 2.0, 1.8, 3.2, 7.0], [1.6, 1.8, 2.1, 3.8, 2.2],
    [0.4, 2.1, 2.3, 5.8, 4.2], [1.1, 1.3, 4.1, 4.2, 2.2], [0.8, 3.1, 3.0, 1.8, 4.6],
    [1.4, 0.8, 2.5, 4.6, 4.6], [0.3, 2.5, 1.9, 4.6, 6.4], [1.2, 1.5, 2.9, 2.2, 6.8],
    [0.6, 1.9, 4.7, 3.6, 2.4], [1.7, 2.3, 1.5, 3.2, 1.8], [0.9, 0.7, 1.5, 5.0, 7.0],
    [1.0, 2.7, 3.5, 4.2, 1.2], [0.4, 1.6, 2.9, 3.2, 7.4],
]

panel_titles = ["(a) RVEA", "(b) PREA", "(c) CAMOEA", "(d) One by one EA", "(e) MaOEA/TPS"]
panel_data = [rvea, prea, camoea, one_by_one, maoea_tps]
y_max = [10, 10, 12, 10, 10]

# Plot boxes in pixels: left, right, top, bottom
boxes = [(50, 432, 17, 315), (508, 881, 24, 313), (962, 1330, 29, 315),
         (145, 536, 444, 749), (807, 1196, 444, 749)]
caption_pos = [(167, 380), (638, 380), (1133, 380), (342, 826), (1011, 826)]

SERIF = "Liberation Serif, Times New Roman, serif"
LINE_GREY = "rgb(128,128,128)"

fig = go.Figure()
annotations = []

for i, (rows, box) in enumerate(zip(panel_data, boxes)):
    k = "" if i == 0 else str(i + 1)
    xs, ys = [], []
    for r in rows:
        xs += dimensions + [None]
        ys += list(r) + [None]
    fig.add_trace(go.Scatter(
        x=xs, y=ys, mode="lines", xaxis="x" + k, yaxis="y" + k,
        line=dict(color=LINE_GREY, width=2.4), hoverinfo="skip", showlegend=False,
    ))
    l, r_, t, b = box
    axis_common = dict(
        showline=True, linecolor="black", linewidth=1, mirror="ticks",
        ticks="inside", ticklen=5, tickwidth=1, tickcolor="black",
        showgrid=False, zeroline=False,
        tickfont=dict(family=SERIF, size=13, color="#262626"),
    )
    fig.update_layout(**{
        "xaxis" + k: dict(domain=[l / W, r_ / W], range=[1, 5], tickvals=dimensions,
                          anchor="y" + k, **axis_common),
        "yaxis" + k: dict(domain=[1 - b / H, 1 - t / H], range=[0, y_max[i]],
                          tickvals=list(range(0, y_max[i] + 1, 2)),
                          anchor="x" + k, **axis_common),
    })
    cx = (l + r_) / 2
    cy = (t + b) / 2
    annotations.append(dict(text="Dimension No.", x=cx / W, y=1 - (b + 36) / H,
                            xref="paper", yref="paper", showarrow=False,
                            xanchor="center", yanchor="middle",
                            font=dict(family=SERIF, size=15.5, color="#262626")))
    annotations.append(dict(text="Value", x=(l - 33) / W, y=1 - cy / H,
                            xref="paper", yref="paper", showarrow=False, textangle=-90,
                            xanchor="center", yanchor="middle",
                            font=dict(family=SERIF, size=15.5, color="#262626")))
    px_, py_ = caption_pos[i]
    annotations.append(dict(text="<b>" + panel_titles[i] + "</b>", x=px_ / W, y=1 - py_ / H,
                            xref="paper", yref="paper", showarrow=False,
                            xanchor="center", yanchor="middle",
                            font=dict(family=SERIF, size=23, color="black")))

fig.update_layout(
    width=W, height=H, margin=dict(l=0, r=0, t=0, b=0),
    paper_bgcolor="white", plot_bgcolor="white",
    annotations=annotations,
)

fig.write_html("out.html")
